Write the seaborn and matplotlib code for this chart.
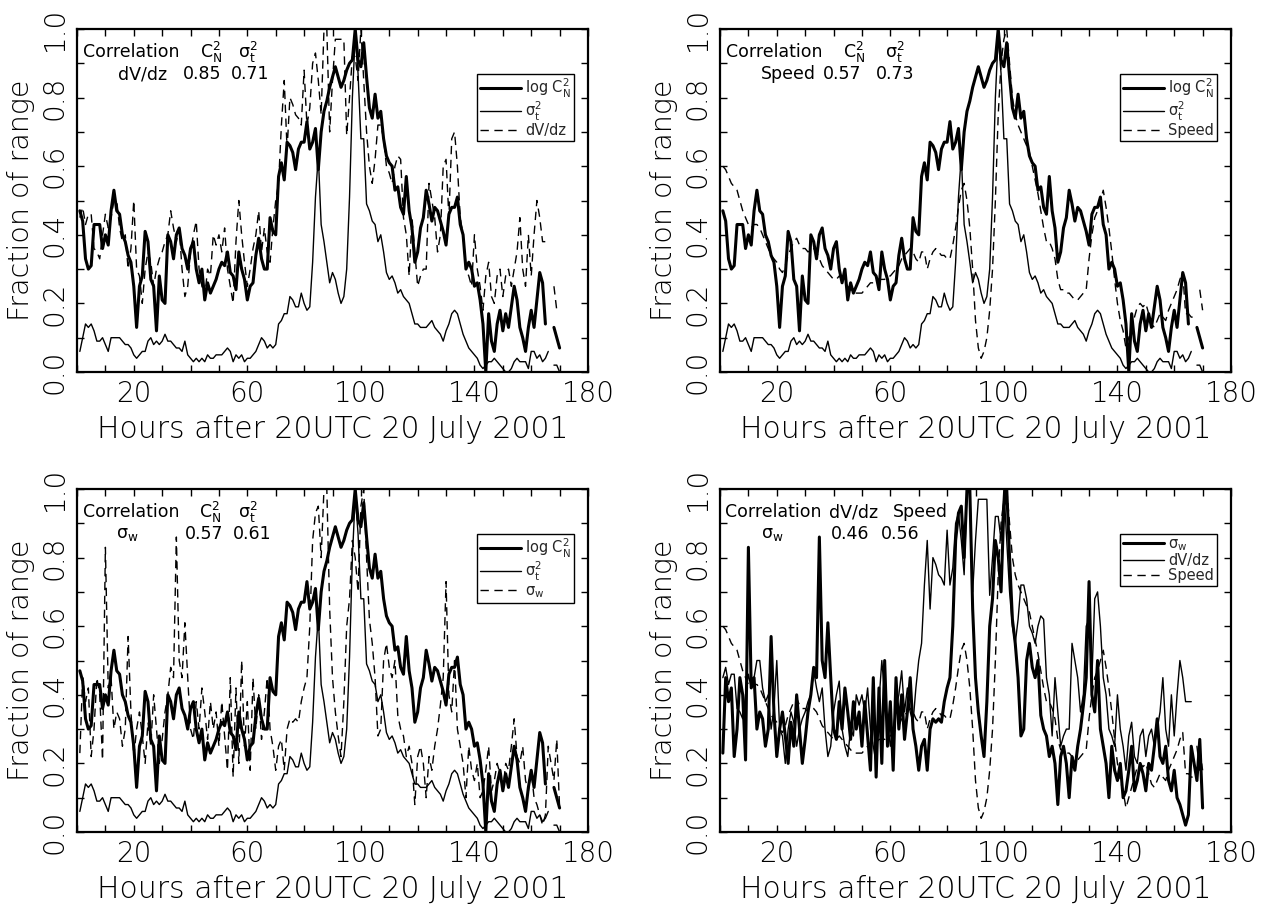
import numpy as np
import pandas as pd
import matplotlib
matplotlib.use("Agg")
import matplotlib.pyplot as plt
from matplotlib.lines import Line2D
from matplotlib.ticker import FixedLocator, FuncFormatter
import seaborn as sns

nan = np.nan
hours = np.arange(1, 171)

log_cn2 = [
    0.47, 0.44, 0.33, 0.30, 0.31, 0.43, 0.43, 0.43, 0.36, 0.40,
    0.37, 0.47, 0.53, 0.47, 0.46, 0.40, 0.38, 0.34, 0.32, 0.25,
    0.13, 0.25, 0.28, 0.41, 0.38, 0.27, 0.25, 0.12, 0.28, 0.21,
    0.20, 0.40, 0.38, 0.33, 0.40, 0.42, 0.36, 0.34, 0.30, 0.36,
    0.38, 0.30, 0.26, 0.30, 0.21, 0.26, 0.23, 0.25, 0.27, 0.30,
    0.32, 0.31, 0.35, 0.29, 0.28, 0.24, 0.35, 0.30, 0.27, 0.21,
    0.25, 0.26, 0.34, 0.39, 0.33, 0.30, 0.30, 0.45, 0.41, 0.40,
    0.57, 0.61, 0.56, 0.67, 0.66, 0.64, 0.59, 0.65, 0.67, 0.67,
    0.73, 0.65, 0.67, 0.71, 0.59, 0.70, 0.76, 0.79, 0.83, 0.86,
    0.89, 0.86, 0.83, 0.85, 0.88, 0.90, 0.91, 1.00, 0.91, 0.89,
    0.96, 0.86, 0.77, 0.74, 0.81, 0.74, 0.76, 0.68, 0.63, 0.61,
    0.60, 0.53, 0.54, 0.48, 0.46, 0.57, 0.47, 0.42, 0.32, 0.35,
    0.42, 0.45, 0.53, 0.49, 0.44, 0.48, 0.47, 0.44, 0.41, 0.37,
    0.46, 0.48, 0.48, 0.51, 0.43, 0.40, 0.30, 0.32, 0.30, 0.25,
    0.26, 0.21, 0.14, 0.00, 0.17, 0.09, 0.06, 0.14, 0.18, 0.12,
    0.17, 0.13, 0.19, 0.25, 0.21, 0.13, 0.10, 0.06, 0.13, 0.18,
    0.13, 0.21, 0.29, 0.26, 0.14, nan, nan, 0.13, 0.10, 0.07,
]

sigma_t2 = [
    0.06, 0.10, 0.14, 0.13, 0.14, 0.12, 0.09, 0.09, 0.10, 0.08,
    0.06, 0.10, 0.10, 0.10, 0.10, 0.09, 0.08, 0.08, 0.07, 0.05,
    0.04, 0.05, 0.06, 0.06, 0.09, 0.10, 0.08, 0.09, 0.08, 0.09,
    0.11, 0.09, 0.09, 0.08, 0.07, 0.07, 0.06, 0.09, 0.05, 0.04,
    0.03, 0.04, 0.03, 0.04, 0.03, 0.05, 0.04, 0.04, 0.05, 0.05,
    0.05, 0.06, 0.07, 0.06, 0.03, 0.05, 0.04, 0.05, 0.03, 0.04,
    0.04, 0.05, 0.06, 0.08, 0.10, 0.09, 0.07, 0.08, 0.07, 0.08,
    0.14, 0.15, 0.17, 0.17, 0.22, 0.21, 0.19, 0.19, 0.23, 0.20,
    0.18, 0.19, 0.32, 0.51, 0.63, 0.43, 0.38, 0.32, 0.26, 0.29,
    0.27, 0.23, 0.20, 0.22, 0.30, 0.51, 0.80, 0.98, 0.87, 0.68,
    0.68, 0.49, 0.47, 0.44, 0.43, 0.38, 0.40, 0.35, 0.29, 0.27,
    0.28, 0.26, 0.23, 0.24, 0.22, 0.21, 0.20, 0.17, 0.14, 0.14,
    0.13, 0.13, 0.13, 0.14, 0.15, 0.13, 0.12, 0.11, 0.09, 0.12,
    0.14, 0.17, 0.18, 0.17, 0.14, 0.11, 0.09, 0.07, 0.06, 0.05,
    0.04, 0.02, 0.01, 0.02, 0.03, 0.03, 0.04, 0.03, 0.02, 0.01,
    0.00, 0.00, 0.01, 0.03, 0.04, 0.03, 0.03, 0.03, 0.01, 0.06,
    0.06, 0.04, 0.05, 0.03, 0.04, 0.06, nan, 0.02, 0.02, 0.00,
]

dvdz = [
    0.45, 0.48, 0.43, 0.46, 0.46, 0.36, 0.35, 0.33, 0.40, 0.46,
    0.42, 0.45, 0.50, 0.50, 0.42, 0.38, 0.40, 0.30, 0.36, 0.50,
    0.30, 0.28, 0.20, 0.30, 0.35, 0.32, 0.25, 0.30, 0.33, 0.35,
    0.38, 0.40, 0.47, 0.42, 0.38, 0.42, 0.30, 0.22, 0.25, 0.35,
    0.40, 0.44, 0.30, 0.25, 0.22, 0.30, 0.28, 0.40, 0.37, 0.40,
    0.35, 0.42, 0.30, 0.25, 0.20, 0.38, 0.50, 0.40, 0.32, 0.25,
    0.30, 0.36, 0.40, 0.47, 0.35, 0.42, 0.35, 0.32, 0.42, 0.50,
    0.55, 0.72, 0.85, 0.65, 0.80, 0.78, 0.75, 0.74, 0.72, 0.88,
    0.72, 0.77, 0.90, 0.93, 0.85, 0.75, 1.00, 1.00, 0.70, 0.85,
    0.97, 0.97, 0.97, 0.97, 0.69, 0.80, 0.92, 0.92, 0.85, 1.00,
    0.85, 0.70, 0.60, 0.55, 0.62, 0.72, 0.72, 0.68, 0.60, 0.58,
    0.55, 0.60, 0.63, 0.62, 0.45, 0.40, 0.28, 0.45, 0.35, 0.25,
    0.28, 0.30, 0.30, 0.55, 0.50, 0.45, 0.35, 0.40, 0.60, 0.62,
    0.45, 0.68, 0.70, 0.60, 0.45, 0.40, 0.30, 0.28, 0.25, 0.40,
    0.30, 0.25, 0.18, 0.28, 0.32, 0.22, 0.20, 0.28, 0.30, 0.22,
    0.28, 0.30, 0.25, 0.30, 0.35, 0.45, 0.30, 0.25, 0.40, 0.28,
    0.40, 0.50, 0.45, 0.38, 0.38, 0.38, nan, 0.25, 0.18, nan,
]

speed = [
    0.60, 0.59, 0.57, 0.55, 0.54, 0.53, 0.50, 0.47, 0.45, 0.43,
    0.42, 0.43, 0.43, 0.42, 0.40, 0.38, 0.36, 0.34, 0.33, 0.32,
    0.30, 0.29, 0.31, 0.34, 0.36, 0.38, 0.39, 0.37, 0.36, 0.36,
    0.35, 0.36, 0.36, 0.35, 0.33, 0.31, 0.30, 0.29, 0.28, 0.27,
    0.27, 0.28, 0.27, 0.26, 0.25, 0.24, 0.23, 0.23, 0.23, 0.23,
    0.24, 0.25, 0.26, 0.26, 0.26, 0.27, 0.27, 0.27, 0.28, 0.28,
    0.29, 0.30, 0.31, 0.33, 0.34, 0.35, 0.36, 0.35, 0.33, 0.32,
    0.35, 0.35, 0.30, 0.33, 0.35, 0.36, 0.35, 0.34, 0.34, 0.33,
    0.33, 0.37, 0.42, 0.48, 0.53, 0.55, 0.50, 0.42, 0.30, 0.15,
    0.07, 0.04, 0.06, 0.10, 0.18, 0.30, 0.50, 0.75, 0.90, 0.97,
    1.00, 0.90, 0.80, 0.75, 0.72, 0.70, 0.68, 0.66, 0.64, 0.60,
    0.56, 0.52, 0.47, 0.42, 0.38, 0.38, 0.36, 0.33, 0.27, 0.24,
    0.24, 0.23, 0.23, 0.22, 0.21, 0.21, 0.22, 0.23, 0.24, 0.33,
    0.40, 0.45, 0.47, 0.50, 0.53, 0.48, 0.42, 0.35, 0.27, 0.20,
    0.15, 0.12, 0.07, 0.10, 0.13, 0.16, 0.19, 0.20, 0.19, 0.20,
    0.17, 0.14, 0.13, 0.15, 0.17, 0.16, 0.15, 0.18, 0.20, 0.22,
    0.24, 0.27, 0.29, 0.17, 0.17, 0.16, 0.16, nan, 0.24, 0.18,
]

sigma_w = [
    0.23, 0.45, 0.38, 0.42, 0.22, 0.30, 0.45, 0.40, 0.21, 0.83,
    0.42, 0.45, 0.30, 0.35, 0.33, 0.25, 0.30, 0.57, 0.35, 0.22,
    0.30, 0.35, 0.28, 0.20, 0.32, 0.25, 0.40, 0.30, 0.20, 0.27,
    0.35, 0.40, 0.48, 0.45, 0.86, 0.50, 0.45, 0.61, 0.45, 0.30,
    0.27, 0.38, 0.30, 0.42, 0.35, 0.27, 0.38, 0.30, 0.35, 0.25,
    0.38, 0.28, 0.18, 0.45, 0.16, 0.42, 0.20, 0.50, 0.25, 0.38,
    0.18, 0.45, 0.30, 0.40, 0.27, 0.35, 0.45, 0.30, 0.25, 0.18,
    0.25, 0.27, 0.18, 0.30, 0.33, 0.32, 0.33, 0.32, 0.38, 0.42,
    0.45, 0.60, 0.85, 0.93, 0.95, 0.80, 1.00, 1.00, 0.65, 0.45,
    0.35, 0.28, 0.22, 0.38, 0.60, 0.68, 0.85, 0.80, 0.70, 0.95,
    1.00, 0.80, 0.62, 0.55, 0.45, 0.28, 0.30, 0.50, 0.55, 0.48,
    0.45, 0.50, 0.34, 0.30, 0.28, 0.22, 0.25, 0.20, 0.08, 0.22,
    0.25, 0.20, 0.10, 0.22, 0.18, 0.25, 0.30, 0.37, 0.45, 0.73,
    0.40, 0.35, 0.50, 0.30, 0.25, 0.20, 0.10, 0.25, 0.18, 0.15,
    0.20, 0.10, 0.12, 0.18, 0.25, 0.12, 0.15, 0.20, 0.17, 0.12,
    0.20, 0.18, 0.25, 0.33, 0.22, 0.20, 0.25, 0.15, 0.12, 0.18,
    0.10, 0.08, 0.05, 0.02, 0.05, 0.25, 0.20, 0.15, 0.27, 0.07,
]

series = {
    "log_cn2": log_cn2, "sigma_t2": sigma_t2, "dvdz": dvdz,
    "speed": speed, "sigma_w": sigma_w,
}
df = pd.DataFrame({"hours": hours, **{k: np.asarray(v, float) for k, v in series.items()}})

panels = [
    {"lines": [("log_cn2", "thick"), ("sigma_t2", "thin"), ("dvdz", "dash")],
     "labels": [r"log C$_\mathrm{N}^2$", r"$\sigma_t^2$", "dV/dz"],
     "head": [("Correlation", 0.012), (r"C$_\mathrm{N}^2$", 0.240), (r"$\sigma_t^2$", 0.315)],
     "row": [("dV/dz", 0.080, "left"), ("0.85", 0.283, "right"), ("0.71", 0.376, "right")]},
    {"lines": [("log_cn2", "thick"), ("sigma_t2", "thin"), ("speed", "dash")],
     "labels": [r"log C$_\mathrm{N}^2$", r"$\sigma_t^2$", "Speed"],
     "head": [("Correlation", 0.012), (r"C$_\mathrm{N}^2$", 0.240), (r"$\sigma_t^2$", 0.322)],
     "row": [("Speed", 0.080, "left"), ("0.57", 0.276, "right"), ("0.73", 0.381, "right")]},
    {"lines": [("log_cn2", "thick"), ("sigma_t2", "thin"), ("sigma_w", "dash")],
     "labels": [r"log C$_\mathrm{N}^2$", r"$\sigma_t^2$", r"$\sigma_w$"],
     "head": [("Correlation", 0.012), (r"C$_\mathrm{N}^2$", 0.239), (r"$\sigma_t^2$", 0.315)],
     "row": [(r"$\sigma_w$", 0.076, "left"), ("0.57", 0.287, "right"), ("0.61", 0.380, "right")]},
    {"lines": [("sigma_w", "thick"), ("dvdz", "thin"), ("speed", "dash")],
     "labels": [r"$\sigma_w$", "dV/dz", "Speed"],
     "head": [("Correlation", 0.010), ("dV/dz", 0.214), ("Speed", 0.338)],
     "row": [(r"$\sigma_w$", 0.080, "left"), ("0.46", 0.292, "right"), ("0.56", 0.390, "right")]},
]

sns.set_theme(style="ticks")
plt.rcParams["font.family"] = ["DejaVu Sans"]
plt.rcParams["mathtext.default"] = "regular"
plt.rcParams["lines.dashed_pattern"] = [6, 4]

STYLE = {"thick": dict(linewidth=2.2, linestyle="-"),
         "thin": dict(linewidth=1.0, linestyle="-"),
         "dash": dict(linewidth=1.0, linestyle="--")}

W, H = 1268, 909
fig = plt.figure(figsize=(W / 100, H / 100), dpi=100)
lefts = [77, 720]
tops = [29, 489]
aw, ah = 511, 343


def draw_series(ax, col, kind):
    y = df[col].to_numpy()
    idx = np.where(~np.isnan(y))[0]
    if len(idx) == 0:
        return
    groups = np.split(idx, np.where(np.diff(idx) != 1)[0] + 1)
    for g in groups:
        if len(g) < 2:
            continue
        sns.lineplot(x=df["hours"].iloc[g].to_numpy(), y=y[g], ax=ax, color="black",
                     estimator=None, sort=False, legend=False, **STYLE[kind])


for i, p in enumerate(panels):
    r, c = divmod(i, 2)
    ax = fig.add_axes([lefts[c] / W, 1 - (tops[r] + ah) / H, aw / W, ah / H])
    for col, kind in p["lines"]:
        draw_series(ax, col, kind)
    ax.set_xlim(0, 180)
    ax.set_ylim(0, 1)
    ax.xaxis.set_major_locator(FixedLocator(np.arange(0, 181, 10)))
    ax.yaxis.set_major_locator(FixedLocator(np.round(np.arange(0, 1.01, 0.1), 1)))
    ax.xaxis.set_major_formatter(FuncFormatter(
        lambda v, pos: f"{int(round(v))}" if int(round(v)) % 40 == 20 else ""))
    ax.yaxis.set_major_formatter(FuncFormatter(
        lambda v, pos: f"{v:.1f}" if int(round(v * 10)) % 2 == 0 else ""))
    ax.tick_params(axis="both", direction="in", length=5, width=1.0,
                   top=True, right=True, colors="black", labelsize=20)
    ax.tick_params(axis="x", pad=6)
    ax.tick_params(axis="y", pad=6)
    for lab in ax.get_yticklabels():
        lab.set_rotation(90)
        lab.set_va("center")
        lab.set_ha("right")
        lab.set_fontweight(200)
    for lab in ax.get_xticklabels():
        lab.set_fontweight(200)
    for s in ax.spines.values():
        s.set_linewidth(1.6)
        s.set_color("black")
    ax.set_xlabel("Hours after 20UTC 20 July 2001", labelpad=5, color="black",
                  fontsize=21.5, fontweight=200)
    ax.set_ylabel("Fraction of range", labelpad=4, color="black",
                  fontsize=20.5, fontweight=200)

    for txt, x in p["head"]:
        ax.text(x, 0.932, txt, transform=ax.transAxes, fontsize=12.5,
                ha="left", va="center", color="black")
    for txt, x, ha in p["row"]:
        ax.text(x, 0.868, txt, transform=ax.transAxes, fontsize=12.5,
                ha=ha, va="center", color="black")

    handles = [Line2D([], [], color="black", **STYLE[k]) for _, k in p["lines"]]
    leg = ax.legend(handles, p["labels"], loc="upper right",
                    bbox_to_anchor=(0.973, 0.870), fontsize=10.5,
                    frameon=True, fancybox=False, edgecolor="black", framealpha=1,
                    borderpad=0.2, labelspacing=0.0, handlelength=2.8,
                    handletextpad=0.3, borderaxespad=0)
    leg.get_frame().set_linewidth(1.0)

fig.savefig("out.png", dpi=100)
